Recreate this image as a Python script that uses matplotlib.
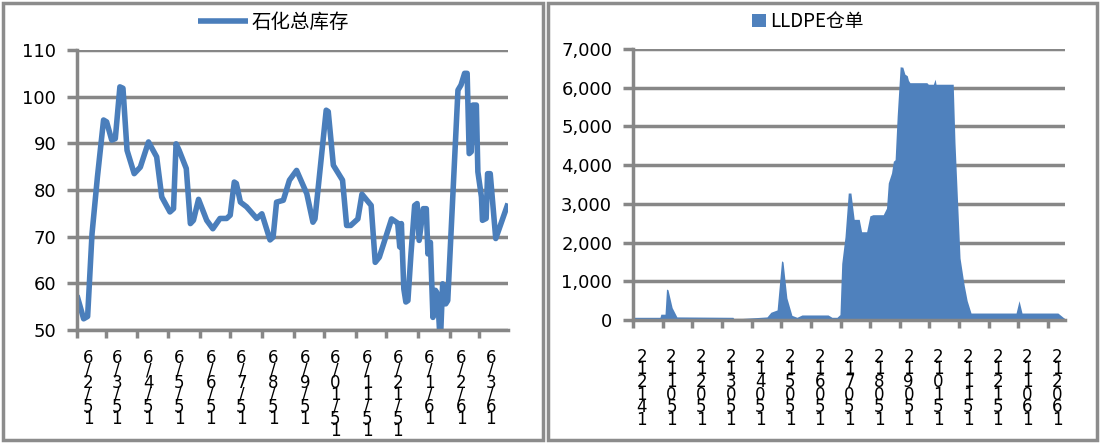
import matplotlib
matplotlib.use('Agg')
import matplotlib.pyplot as plt
from matplotlib.patches import Rectangle
from matplotlib.ticker import FuncFormatter, FixedLocator

# ---------------- data: 石化总库存 (days since 2015-02-01) ----------------
inv_days = [0, 6.5, 10.4, 14.7, 20, 26, 29, 34, 37.5, 42, 45, 49, 56, 62, 70, 78, 83, 91, 94.5,
            97, 100, 107, 111, 114, 119, 127, 133, 140, 146.5, 150, 154, 156, 160, 166, 176,
            181, 189, 192, 195.4, 202, 208, 215, 225, 231, 233, 244, 246, 251, 260, 264, 268,
            275, 279, 288, 292, 296, 308, 314, 316, 317.6, 320, 322, 324, 327, 330.6, 333, 335,
            339, 342, 343.6, 346, 348.5, 351, 353, 355.7, 358, 361, 363, 373, 376, 379.5, 382,
            384, 386, 387.6, 391, 392.5, 396, 397, 400.6, 402, 404.6, 410, 422]
inv_vals = [57.4, 52.4, 52.9, 70.6, 82.8, 95.0, 94.6, 90.7, 91.0, 102.1, 101.8, 88.5, 83.5, 84.9,
            90.3, 87.1, 78.5, 75.3, 76.0, 89.9, 88.5, 84.6, 72.8, 73.5, 78.0, 73.5, 71.7, 73.9,
            73.9, 74.6, 81.7, 81.4, 77.4, 76.4, 73.9, 74.9, 69.3, 69.9, 77.4, 77.8, 82.1, 84.2,
            79.2, 73.1, 73.8, 97.1, 96.8, 85.3, 82.1, 72.4, 72.4, 73.8, 79.1, 76.7, 64.5, 65.6,
            73.8, 72.9, 67.8, 72.8, 58.8, 56.0, 56.3, 66.3, 76.7, 77.1, 69.2, 76.0, 76.0, 66.3,
            68.8, 52.7, 58.5, 57.7, 47.0, 59.9, 55.6, 56.3, 101.4, 102.5, 105.0, 105.0, 87.8,
            88.2, 98.2, 98.2, 83.9, 78.5, 73.5, 73.9, 83.5, 83.5, 69.6, 77.1]
inv_month_starts = [0, 28, 59, 89, 120, 150, 181, 212, 242, 273, 303, 334, 365, 394]
inv_labels = ["6/2/51", "6/3/51", "6/4/51", "6/5/51", "6/6/51", "6/7/51", "6/8/51",
              "6/9/51", "6/01/51", "6/11/51", "6/21/51", "6/1/61", "6/2/61", "6/3/61"]
inv_yticks = [50, 60, 70, 80, 90, 100, 110]

# ---------------- data: LLDPE仓单 (month index) ----------------
wr_pos = [0.0, 0.91, 0.94, 1.08, 1.13, 1.18, 1.32, 1.48, 3.37, 3.41, 4.52, 4.65, 4.86, 5.01,
          5.06, 5.19, 5.36, 5.53, 5.70, 6.58, 6.71, 6.88, 6.98, 7.04, 7.15, 7.26, 7.35, 7.46,
          7.63, 7.71, 7.88, 7.99, 8.09, 8.44, 8.55, 8.61, 8.72, 8.78, 8.84, 8.91, 9.01, 9.10,
          9.17, 9.25, 9.29, 9.34, 9.91, 9.96, 10.13, 10.19, 10.22, 10.80, 10.86, 10.95, 11.03,
          11.17, 11.27, 11.40, 12.92, 13.02, 13.12, 14.33, 14.57]
wr_vals = [70, 70, 150, 150, 800, 780, 320, 80, 70, 25, 80, 200, 260, 1530,
           1500, 570, 120, 70, 130, 130, 70, 70, 140, 1460, 2150, 3280, 3280, 2600,
           2600, 2280, 2280, 2690, 2720, 2720, 2890, 3540, 3800, 4100, 4140, 5270, 6540, 6530,
           6350, 6310, 6190, 6130, 6130, 6090, 6090, 6220, 6090, 6090, 4580, 3000, 1600,
           900, 500, 180, 180, 500, 180, 180, 30]
wr_labels = ["212141", "211051", "212051", "213051", "214051", "215051", "216051", "217051",
             "218051", "219051", "210151", "211151", "212151", "211061", "212061"]
wr_yticks = [0, 1000, 2000, 3000, 4000, 5000, 6000, 7000]

BLUE = '#4A7EBB'
AREA = '#4F81BD'
GRID = '#878787'
W, H = 1100, 443

plt.rcParams['font.family'] = ['DejaVu Sans']
fig = plt.figure(figsize=(W / 100, H / 100), dpi=100)

# panel borders
for (x0, x1) in [(3, 543), (548, 1097)]:
    fig.patches.append(Rectangle((x0 / W, 1 - 440 / H), (x1 - x0) / W, 437 / H,
                                 transform=fig.transFigure, fill=False,
                                 edgecolor='#8c8c8c', linewidth=2.5, zorder=0))


def style_axes(ax):
    for s in ['top', 'right']:
        ax.spines[s].set_visible(False)
    for s in ['left', 'bottom']:
        ax.spines[s].set_color(GRID)
        ax.spines[s].set_linewidth(2.5)
    ax.yaxis.grid(True, color=GRID, linewidth=2.5)
    ax.set_axisbelow(True)
    ax.tick_params(axis='y', which='major', length=7, width=2.5, color=GRID,
                   labelsize=13, pad=8)
    ax.tick_params(axis='x', which='major', length=6, width=2.5, color=GRID,
                   labelbottom=False)
    ax.tick_params(axis='x', which='minor', length=0, labelsize=12, pad=14)


# ---------- left chart ----------
ax1 = fig.add_axes([77 / W, 1 - 330 / H, (508 - 77) / W, (330 - 50) / H])
ax1.plot(inv_days, inv_vals, color=BLUE, linewidth=4.0, solid_joinstyle='round',
         solid_capstyle='butt', label='石化总库存')
ax1.set_xlim(0, 422)
ax1.set_ylim(50, 110)
ax1.set_yticks(inv_yticks)
style_axes(ax1)
ax1.xaxis.set_major_locator(FixedLocator(inv_month_starts))
ax1.xaxis.set_minor_locator(FixedLocator([d + 11 for d in inv_month_starts]))
ax1.set_xticklabels(["\n".join(list(s)) for s in inv_labels], minor=True,
                    linespacing=0.58, va='top')
leg1 = ax1.legend(loc='lower center', bbox_to_anchor=(0.455, 1.0), frameon=False,
                  prop={'family': ['Noto Sans CJK SC', 'DejaVu Sans'], 'size': 14},
                  handlelength=2.6, handletextpad=0.15, borderaxespad=0.5)

# ---------- right chart ----------
ax2 = fig.add_axes([633 / W, 1 - 320 / H, (1065 - 633) / W, (320 - 49) / H])
ax2.fill_between(wr_pos, wr_vals, 0, color=AREA, linewidth=0, label='LLDPE仓单')
ax2.set_xlim(0, 14.57)
ax2.set_ylim(0, 7000)
ax2.set_yticks(wr_yticks)
ax2.yaxis.set_major_formatter(FuncFormatter(lambda v, p: f"{int(v):,}"))
style_axes(ax2)
ax2.xaxis.set_major_locator(FixedLocator(list(range(15))))
ax2.xaxis.set_minor_locator(FixedLocator([i + 0.3 for i in range(15)]))
ax2.set_xticklabels(["\n".join(list(s)) for s in wr_labels], minor=True,
                    linespacing=0.62, va='top')
ax2.tick_params(axis='x', which='minor', pad=20)
leg2 = ax2.legend(loc='lower center', bbox_to_anchor=(0.405, 1.0), frameon=False,
                  prop={'family': ['Noto Sans CJK SC', 'DejaVu Sans'], 'size': 13.5},
                  handlelength=0.75, handleheight=0.75, handletextpad=0.2, borderaxespad=0.5)

fig.savefig('out.png', dpi=100)
